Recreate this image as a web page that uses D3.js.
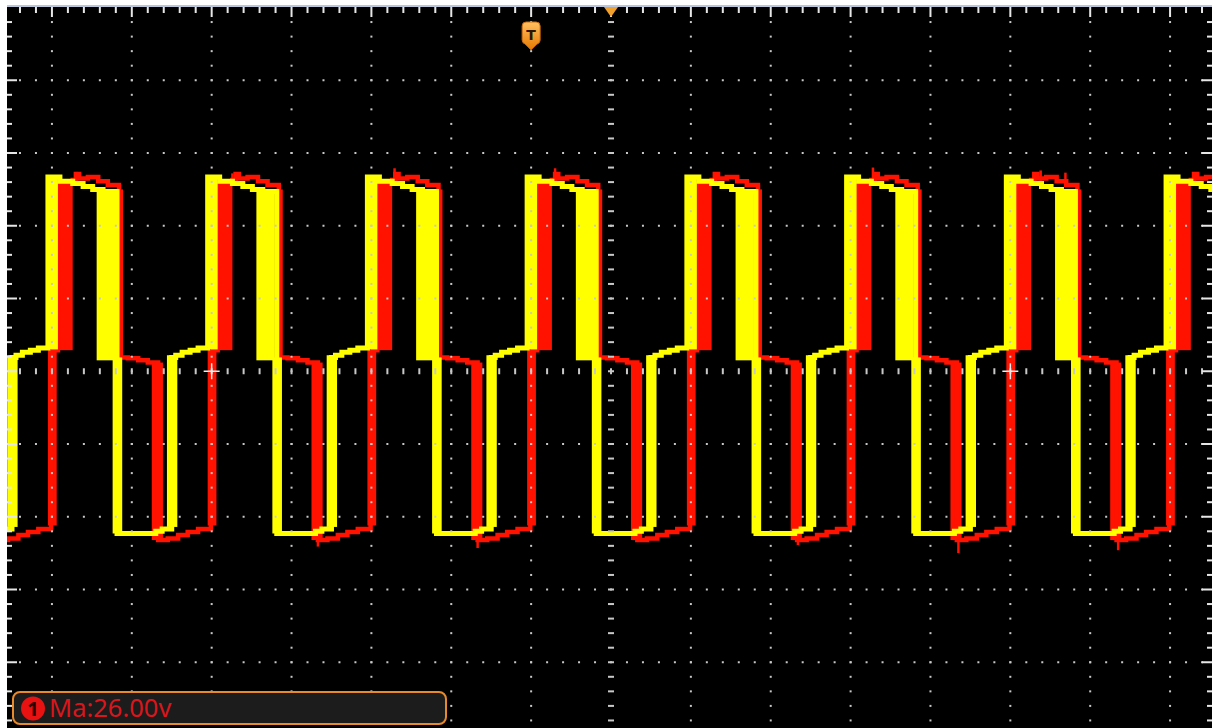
<!DOCTYPE html>
<html>
<head>
<meta charset="utf-8">
<script src="https://cdn.jsdelivr.net/npm/d3@7"></script>
<style>
body { margin: 0; background: #fff; overflow: hidden; }
svg { display: block; }
</style>
</head>
<body>
<svg id="scope" width="1212" height="728"></svg>
<script>
// rising edges of the yellow trace, in divisions from screen centre
const edgeTimes = [-9.05, -7.05, -5.05, -3.05, -1.05, 0.95, 2.95, 4.95, 6.95];

// one cycle of each trace: [time after edge (div), level (div)]
const yellowCycle = [
  [0, 0.33], [0, 2.67], [0.125, 2.67], [0.15, 2.61], [0.31, 2.58], [0.44, 2.54],
  [0.56, 2.50], [0.69, 2.47], [0.865, 2.45], [0.865, -2.23], [1.28, -2.23],
  [1.35, -2.20], [1.43, -2.17], [1.55, -2.14], [1.55, 0.19], [1.60, 0.22],
  [1.68, 0.26], [1.78, 0.29], [1.88, 0.32], [2.0, 0.33]
];
const redCycle = [
  [0.04, 0.29], [0.125, 0.29], [0.125, 2.58], [0.31, 2.63], [0.35, 2.71],
  [0.39, 2.65], [0.50, 2.67], [0.63, 2.61], [0.75, 2.56], [0.89, 2.50],
  [0.89, 0.19], [1.0, 0.18], [1.13, 0.15], [1.25, 0.12], [1.38, 0.10],
  [1.38, -2.32], [1.50, -2.30], [1.63, -2.25], [1.75, -2.21], [1.88, -2.17],
  [2.04, -2.12], [2.04, 0.29]
];

// smeared edges (persistence): [t0, t1, vTop, vBottom] after edge
const yellowBands = [
  [0, 0.125, 2.67, 0.30],
  [0.61, 0.84, 2.48, 0.15],
  [0.81, 0.93, 0.19, -2.23],
  [1.49, 1.62, 0.22, -2.14]
];
const redBands = [
  [0.125, 0.31, 2.60, 0.29],
  [0.84, 0.94, 2.50, 0.19],
  [1.30, 1.44, 0.12, -2.32],
  [2.0, 2.11, 0.29, -2.12]
];

// glitches on the red trace: [t, vFrom, vTo]
const redSpikes = [
  [-6.69, 2.62, 2.74], [-4.74, 2.62, 2.72], [-2.71, 2.62, 2.79], [-0.70, 2.62, 2.79],
  [3.28, 2.62, 2.80], [5.38, 2.60, 2.76], [5.69, 2.58, 2.73],
  [-3.67, -2.19, -2.41], [-1.67, -2.19, -2.43], [2.34, -2.19, -2.39],
  [4.35, -2.19, -2.50], [6.35, -2.19, -2.46]
];

const markerTimes = [-5, 5];
const triggerTime = -1.0;
const labelText = 'Ma:26.00v';

const svg = d3.select('#scope');
const x = d3.scaleLinear().domain([-7.5, 7.5]).range([12, 1210]);
const y = d3.scaleLinear().domain([-5, 5]).range([735, 7.5]);

svg.append('rect').attr('x', 7).attr('y', 7).attr('width', 1205).attr('height', 721).attr('fill', '#000');

svg.append('defs').append('clipPath').attr('id', 'screen')
  .append('rect').attr('x', 7).attr('y', 7).attr('width', 1205).attr('height', 721);

const traces = svg.append('g').attr('clip-path', 'url(#screen)');
const line = d3.line().x(d => x(d[0])).y(d => y(d[1])).curve(d3.curveStepAfter);

function drawChannel(cycle, bands, colour, width) {
  const g = traces.append('g');
  edgeTimes.forEach(e => {
    g.selectAll(null).data(bands).enter().append('rect')
      .attr('x', b => x(e + b[0]))
      .attr('y', b => y(b[2]))
      .attr('width', b => x(e + b[1]) - x(e + b[0]))
      .attr('height', b => y(b[3]) - y(b[2]))
      .attr('fill', colour);
    g.append('path')
      .datum(cycle.map(p => [e + p[0], p[1]]))
      .attr('d', line)
      .attr('fill', 'none')
      .attr('stroke', colour)
      .attr('stroke-width', width);
  });
  return g;
}

const redG = drawChannel(redCycle, redBands, '#ff1200', 4.5);
redG.selectAll('line.spike').data(redSpikes).enter().append('line')
  .attr('x1', d => x(d[0])).attr('x2', d => x(d[0]))
  .attr('y1', d => y(d[1])).attr('y2', d => y(d[2]))
  .attr('stroke', '#ff1200').attr('stroke-width', 2.5);
drawChannel(yellowCycle, yellowBands, '#ffff00', 5);

// graticule
const grid = svg.append('g').attr('fill', '#c8c8c8');
const tMinor = d3.range(-7.4, 7.5, 0.2).map(v => Math.round(v * 10) / 10);
const vMinor = d3.range(-5, 5.01, 0.2).map(v => Math.round(v * 10) / 10);
const tMajor = d3.range(-7, 8, 1);
const vMajor = d3.range(-4, 5, 1);

tMajor.filter(t => t !== 0).forEach(t => {
  grid.selectAll(null).data(vMinor.filter(v => v > -5 && v < 5)).enter().append('rect')
    .attr('x', x(t) - 1).attr('y', v => y(v) - 1).attr('width', 2).attr('height', 2);
});
vMajor.filter(v => v !== 0).forEach(v => {
  grid.selectAll(null).data(tMinor).enter().append('rect')
    .attr('x', t => x(t) - 1).attr('y', y(v) - 1).attr('width', 2).attr('height', 2);
});
// centre axes with small ticks
grid.selectAll(null).data(vMinor.filter(v => v > -5 && v < 5)).enter().append('rect')
  .attr('x', x(0) - 3).attr('y', v => y(v) - 1).attr('width', 6).attr('height', 2);
grid.selectAll(null).data(tMinor).enter().append('rect')
  .attr('x', t => x(t) - 1).attr('y', y(0) - 3).attr('width', 2).attr('height', 6);

// edge ticks
const edge = svg.append('g').attr('fill', '#e6e6e6');
edge.selectAll(null).data(tMinor).enter().append('rect')
  .attr('x', t => x(t) - 1).attr('y', 7)
  .attr('width', 2).attr('height', t => Number.isInteger(t) ? 10 : 6);
edge.selectAll(null).data(vMinor.filter(v => v > -5 && v < 5)).enter().append('rect')
  .attr('x', 7).attr('y', v => y(v) - 1)
  .attr('width', v => Number.isInteger(v) ? 10 : 5).attr('height', 2);
edge.selectAll(null).data(vMinor.filter(v => v > -5 && v < 5)).enter().append('rect')
  .attr('x', v => Number.isInteger(v) ? 1202 : 1207).attr('y', v => y(v) - 1)
  .attr('width', v => Number.isInteger(v) ? 10 : 5).attr('height', 2);

svg.append('rect').attr('x', 7).attr('y', 5).attr('width', 1205).attr('height', 2).attr('fill', '#b9c6dc');

// cursor crosses
svg.selectAll('g.cross').data(markerTimes).enter().append('g')
  .attr('transform', t => `translate(${x(t)},${y(0)})`)
  .each(function () {
    const g = d3.select(this);
    g.append('line').attr('x1', -8).attr('x2', 8).attr('stroke', '#eee').attr('stroke-width', 1.5);
    g.append('line').attr('y1', -8).attr('y2', 8).attr('stroke', '#eee').attr('stroke-width', 1.5);
  });

// trigger position and centre markers
const grad = svg.select('defs').append('linearGradient').attr('id', 'og')
  .attr('x1', 0).attr('y1', 0).attr('x2', 0).attr('y2', 1);
grad.append('stop').attr('offset', 0).attr('stop-color', '#ffc060');
grad.append('stop').attr('offset', 1).attr('stop-color', '#e87800');

const tx = x(triggerTime);
svg.append('path')
  .attr('d', `M${tx - 9},26 q0,-4 4,-4 h10 q4,0 4,4 v14 q0,3 -3,4 l-6,6 l-6,-6 q-3,-1 -3,-4 z`)
  .attr('fill', 'url(#og)').attr('stroke', '#c86a10').attr('stroke-width', 1);
svg.append('text').attr('x', tx).attr('y', 40).attr('text-anchor', 'middle')
  .attr('font-family', 'DejaVu Sans, sans-serif').attr('font-weight', 'bold').attr('font-size', 14)
  .attr('fill', '#2a1500').text('T');

svg.append('path')
  .attr('d', `M${x(0) - 7},7 h14 l-7,10 z`)
  .attr('fill', '#f2a22c');

// measurement readout
const box = svg.append('g');
box.append('rect').attr('x', 13).attr('y', 692).attr('width', 433).attr('height', 32).attr('rx', 7)
  .attr('fill', '#1c1c1c').attr('stroke', '#e8892c').attr('stroke-width', 2);
box.append('circle').attr('cx', 33).attr('cy', 708.5).attr('r', 12).attr('fill', '#e81212');
box.append('text').attr('x', 33).attr('y', 716).attr('text-anchor', 'middle')
  .attr('font-family', 'Noto Sans, sans-serif').attr('font-weight', 'bold').attr('font-size', 20)
  .attr('fill', '#2a0000').text('1');
box.append('text').attr('x', 49).attr('y', 716.5)
  .attr('font-family', 'Noto Sans, sans-serif').attr('font-size', 25.5)
  .attr('fill', '#d8161c').text(labelText);
</script>
</body>
</html>
